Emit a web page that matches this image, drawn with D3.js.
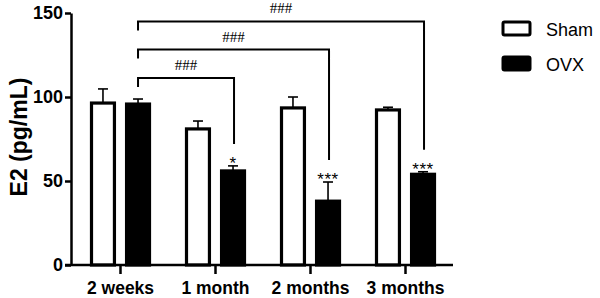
<!DOCTYPE html>
<html>
<head>
<meta charset="utf-8">
<style>
    body { margin: 0; background: #fff; }
    text { font-family: "Liberation Sans", Arial, sans-serif; fill: #000; }
    .axis path, .axis line { stroke: #000; stroke-width: 2.5; }
</style>
</head>
<body>
<svg id="chart" width="600" height="298"></svg>
<script src="https://cdn.jsdelivr.net/npm/d3@7"></script>
<script>
    let groups = ["2 weeks", "1 month", "2 months", "3 months"]
    let series = ["Sham", "OVX"]
    let shamMean = [96.4, 81, 93.5, 92.3]
    let shamErr = [8.4, 4.7, 6.5, 1.6]
    let ovxMean = [95.8, 56, 38, 54]
    let ovxErr = [3, 3, 11.4, 1.5]
    let ovxStars = ["", "*", "***", "***"]
    let yTicks = [0, 50, 100, 150]
    // bracket from 2 weeks OVX to each later OVX bar
    let bracketY = [111.3, 128.2, 145]
    let bracketTo = [1, 2, 3]
    let bracketLabel = ["###", "###", "###"]

    let svg = d3.select("#chart")

    let y = d3.scaleLinear().domain([0, 150]).range([265, 13])
    let x = d3.scaleBand().domain(groups).range([73, 453])
    let xIn = d3.scaleBand().domain(series).range([-30.5, 30.5]).paddingInner(0.26)

    let rows = groups.map((g, i) => [
        { g: g, s: "Sham", v: shamMean[i], e: shamErr[i], star: "" },
        { g: g, s: "OVX", v: ovxMean[i], e: ovxErr[i], star: ovxStars[i] }
    ]).flat()

    let cx = d => x(d.g) + x.bandwidth() / 2 + xIn(d.s) + xIn.bandwidth() / 2

    // error bars (upward)
    let err = svg.append("g").selectAll("g").data(rows).enter().append("g")
    err.append("line")
        .attr("x1", cx).attr("x2", cx)
        .attr("y1", d => y(d.v)).attr("y2", d => y(d.v + d.e))
        .attr("stroke", "#000").attr("stroke-width", 1.6)
    err.append("line")
        .attr("x1", d => cx(d) - 5).attr("x2", d => cx(d) + 5)
        .attr("y1", d => y(d.v + d.e)).attr("y2", d => y(d.v + d.e))
        .attr("stroke", "#000").attr("stroke-width", 1.6)

    // bars
    let bw = xIn.bandwidth() - 3
    svg.append("g").selectAll("rect").data(rows).enter().append("rect")
        .attr("x", d => cx(d) - bw / 2)
        .attr("y", d => y(d.v))
        .attr("width", bw)
        .attr("height", d => y(0) - y(d.v))
        .attr("fill", d => d.s == "Sham" ? "#fff" : "#000")
        .attr("stroke", "#000")
        .attr("stroke-width", 3.2)

    // stars
    svg.append("g").selectAll("text").data(rows.filter(d => d.star)).enter().append("text")
        .attr("x", cx)
        .attr("y", d => y(d.v + d.e) + 3)
        .attr("text-anchor", "middle")
        .attr("font-size", 17)
        .attr("letter-spacing", 0.5)
        .text(d => d.star)

    // brackets
    let ovx0 = rows.find(d => d.g == groups[0] && d.s == "OVX")
    let bx0 = cx(ovx0)
    bracketY.forEach((bv, i) => {
        let target = rows.find(d => d.g == groups[bracketTo[i]] && d.s == "OVX")
        let bx1 = cx(target) + 1
        let yTop = y(bv)
        let yEnd = y(target.v + target.e) - 22
        svg.append("path")
            .attr("d", `M${bx0},${yTop + 9}V${yTop}H${bx1}V${yEnd}`)
            .attr("fill", "none").attr("stroke", "#000").attr("stroke-width", 2)
        svg.append("text")
            .attr("x", (bx0 + bx1) / 2)
            .attr("y", yTop - 8)
            .attr("text-anchor", "middle")
            .style("font-family", "'Liberation Serif', serif")
            .attr("font-size", 15)
            .text(bracketLabel[i])
    })

    // axes
    let yAxis = svg.append("g").attr("class", "axis")
        .attr("transform", "translate(71,0)")
        .call(d3.axisLeft(y).tickValues(yTicks).tickSize(6).tickSizeOuter(0))
    yAxis.selectAll("text").attr("font-size", 18).attr("font-weight", "bold")
        .attr("x", -8).style("font-family", "'Liberation Sans', Arial, sans-serif")

    let xAxis = svg.append("g").attr("class", "axis")
        .attr("transform", "translate(0,265)")
    xAxis.call(d3.axisBottom(x).tickSize(9).tickSizeOuter(0))
    xAxis.select(".domain").attr("d", "M65,0H453")
    xAxis.selectAll("text").attr("font-size", 17.5).attr("font-weight", "bold")
        .attr("y", 17).style("font-family", "'Liberation Sans', Arial, sans-serif")

    svg.append("text")
        .attr("transform", "translate(27,137) rotate(-90)")
        .attr("text-anchor", "middle")
        .attr("font-size", 23)
        .attr("font-weight", "bold")
        .text("E2 (pg/mL)")

    // legend
    let legend = svg.append("g").selectAll("g").data(series).enter().append("g")
        .attr("transform", (d, i) => `translate(503,${22 + i * 35})`)
    legend.append("rect")
        .attr("width", 27).attr("height", 13).attr("rx", 1.5)
        .attr("fill", d => d == "Sham" ? "#fff" : "#000")
        .attr("stroke", "#000").attr("stroke-width", 3)
    legend.append("text")
        .attr("x", 43).attr("y", 13.5)
        .attr("font-size", 18)
        .text(d => d)
</script>
</body>
</html>
